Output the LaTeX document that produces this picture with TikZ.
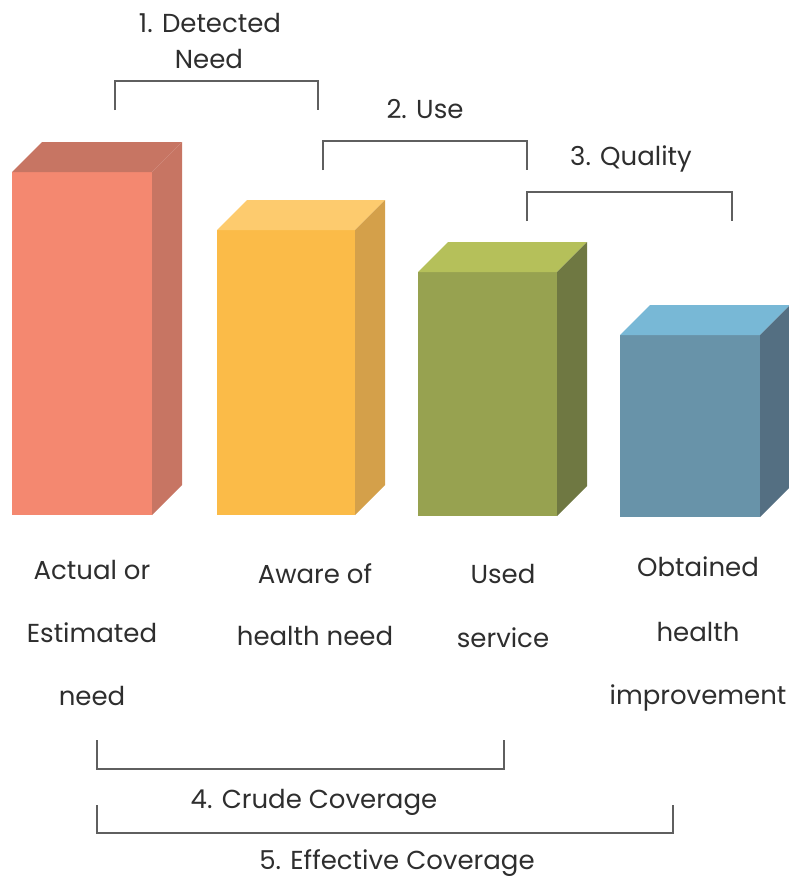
\documentclass[tikz,border=0pt]{standalone}
\usepackage{fontspec}
\setmainfont{Poppins}
\begin{document}
\begin{tikzpicture}[x=1pt,y=-1pt,
  front/.style={rectangle,inner sep=0pt,outer sep=0pt,draw=none},
  lbl/.style={anchor=base,inner sep=0pt,text=txt,font=\fontsize{26}{30}\selectfont},
  brk/.style={draw=brk,line width=1.4pt}]
\definecolor{txt}{HTML}{2E2E2E}
\definecolor{brk}{HTML}{5F5F5F}
\definecolor{rF}{HTML}{F48870}\definecolor{rT}{HTML}{C77563}\definecolor{rS}{HTML}{C77563}
\definecolor{yF}{HTML}{FBBB48}\definecolor{yT}{HTML}{FDCB6E}\definecolor{yS}{HTML}{D4A04A}
\definecolor{gF}{HTML}{97A250}\definecolor{gT}{HTML}{B5C05A}\definecolor{gS}{HTML}{6F7842}
\definecolor{bF}{HTML}{6893A9}\definecolor{bT}{HTML}{78B8D6}\definecolor{bS}{HTML}{546F82}
\useasboundingbox (0,0) rectangle (788,879);
% bars
\node[front,fill=rF,minimum width=140pt,minimum height=343pt] (b1) at (82,343.5) {};
\node[front,fill=yF,minimum width=138pt,minimum height=285pt] (b2) at (286,372.5) {};
\node[front,fill=gF,minimum width=139pt,minimum height=244pt] (b3) at (487.5,394) {};
\node[front,fill=bF,minimum width=140pt,minimum height=182pt] (b4) at (690,426) {};
\foreach \b/\c/\w in {b1/r/140,b2/y/138,b3/g/139,b4/b/140}{
  \fill[\c T] (\b.north west) -- ++(30,-30) -- ++(\w,0) -- (\b.north east) -- cycle;
  \fill[\c S] (\b.north east) -- ++(30,-30) |- ([xshift=30pt,yshift=30pt]\b.south east) -- (\b.south east) -- cycle;
}
% bar labels
\node[lbl] (l1a) at (92,579) {Actual or};
\node[lbl] (l1b) at (92,642) {Estimated};
\node[lbl] (l1c) at (92,705) {need};
\node[lbl] (l2a) at (315,583) {Aware of};
\node[lbl] (l2b) at (315,645) {health need};
\node[lbl] (l3a) at (503,583) {Used};
\node[lbl] (l3b) at (503,647) {service};
\node[lbl] (l4a) at (698,576) {Obtained};
\node[lbl] (l4b) at (698,641) {health};
\node[lbl] (l4c) at (698,704) {improvement};
% top brackets
\coordinate (k1a) at (115,110); \coordinate (k1b) at (318,110);
\draw[brk] (k1a) |- (209,81) -| (k1b);
\node[lbl] (t1a) at (210,32) {1. Detected};
\node[lbl] (t1b) at (209,68) {Need};
\coordinate (k2a) at (323,170); \coordinate (k2b) at (527,170);
\draw[brk] (k2a) |- (425,141) -| (k2b);
\node[lbl] (t2) at (425,118) {2. Use};
\coordinate (k3a) at (527,221); \coordinate (k3b) at (732,221);
\draw[brk] (k3a) |- (630,192) -| (k3b);
\node[lbl] (t3) at (631,165) {3. Quality};
% bottom brackets
\coordinate (k4a) at (97,740); \coordinate (k4b) at (504,740);
\draw[brk] (k4a) |- (300,769) -| (k4b);
\node[lbl] (t4) at (314,808) {4. Crude Coverage};
\coordinate (k5a) at (97,805); \coordinate (k5b) at (673,805);
\draw[brk] (k5a) |- (385,833) -| (k5b);
\node[lbl] (t5) at (397,869) {5. Effective Coverage};
\end{tikzpicture}
\end{document}
